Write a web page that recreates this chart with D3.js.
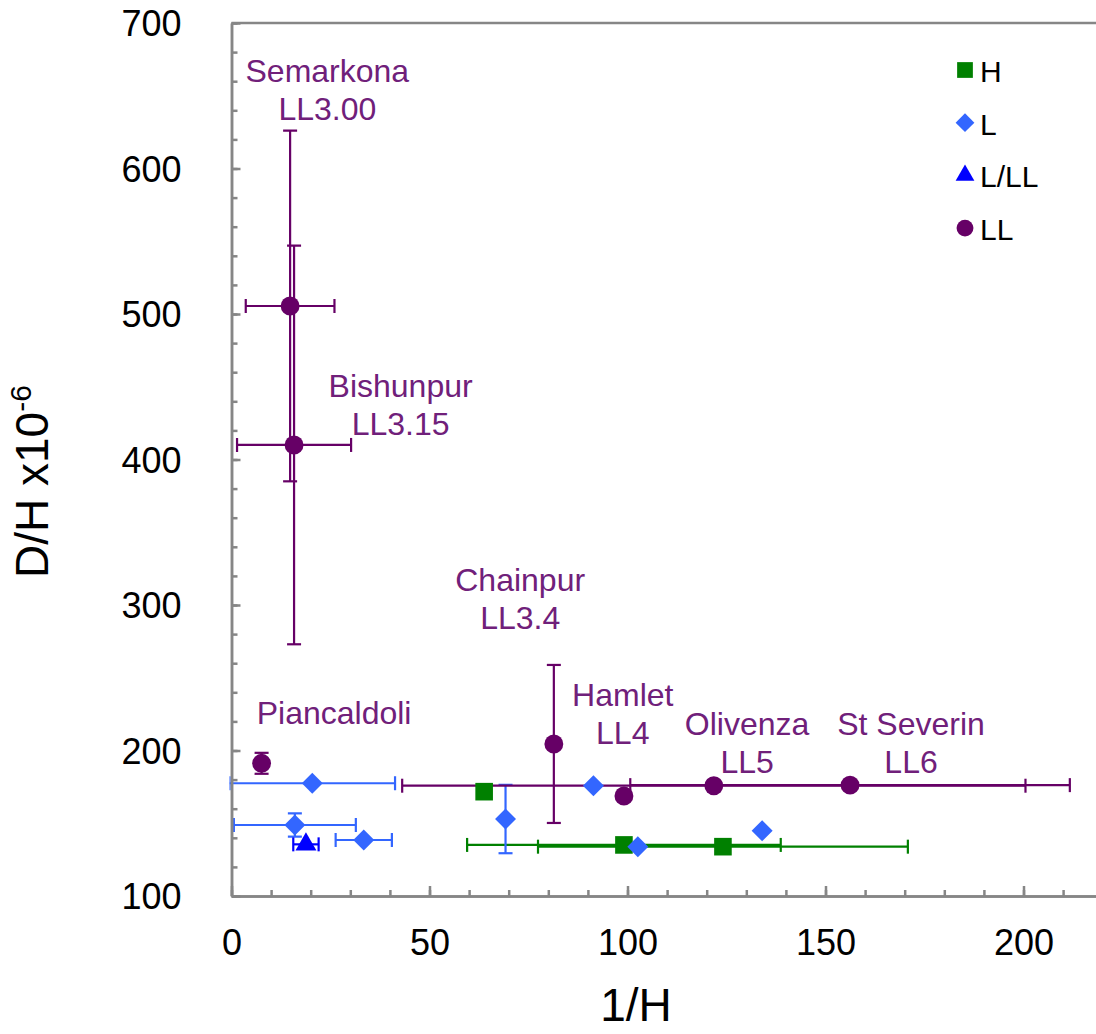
<!DOCTYPE html>
<html>
<head>
<meta charset="utf-8">
<script src="https://cdn.jsdelivr.net/npm/d3@7"></script>
<style>
  body { margin: 0; background: #fff; }
  svg { font-family: "Liberation Sans", Arial, sans-serif; }
</style>
</head>
<body>
<div id="container"></div>
<script>
// series names (legend order)
const seriesNames = ['H', 'L', 'L/LL', 'LL'];

// H chondrites
const hX = [63.8, 99.1, 124.1];
const hY = [171.7, 135.1, 133.9];
const hXErr = [0, 39.6, 46.7];
const hYErr = [0, 0, 0];

// L chondrites
const lX = [20.4, 16.0, 33.4, 69.2, 91.4, 102.6, 134.0];
const lY = [177.5, 148.8, 138.5, 152.9, 175.7, 133.9, 144.9];
const lXErr = [20.9, 15.4, 7.1, 0, 0, 0, 0];
const lYErr = [0, 8, 0, 23.5, 0, 0, 0];

// L/LL
const lllX = [18.8];
const lllY = [135.5];
const lllXErr = [3.2];
const lllYErr = [0];

// LL chondrites
const llNames = ['Semarkona', 'Bishunpur', 'Piancaldoli', 'Chainpur', 'Hamlet', 'Olivenza', 'St Severin'];
const llTypes = ['LL3.00', 'LL3.15', '', 'LL3.4', 'LL4', 'LL5', 'LL6'];
const llX = [14.8, 15.8, 7.6, 81.4, 99.1, 121.8, 156.2];
const llY = [505.5, 410, 191.2, 204.5, 168.7, 175.8, 176.2];
const llXErr = [11.2, 14.4, 0, 0, 0, 78.7, 55.5];
const llYErr = [120.5, 137, 7.2, 54.3, 0, 0, 0];
// label anchors (data units)
const labelX = [24.2, 42.7, 25.9, 72.9, 98.8, 130.2, 171.6];
const labelY = [659.2, 443, 218.2, 309.6, 230.6, 210.6, 210.6];

const xTicks = [0, 50, 100, 150, 200];
const yTicks = [100, 200, 300, 400, 500, 600, 700];

const width = 1096, height = 1034;

const colors = { 'H': '#008000', 'L': '#3366ff', 'L/LL': '#0000ff', 'LL': '#660066' };
const labelColor = '#70207a';
const axisColor = '#868686';

const svg = d3.select('#container').append('svg')
  .attr('width', width)
  .attr('height', height);

const x = d3.scaleLinear().domain([0, 250]).range([231.5, 1221.5]);
const y = d3.scaleLinear().domain([100, 700]).range([896, 23]);

// build point lists
function pts(name, xs, ys, xe, ye) {
  return xs.map((v, i) => ({ s: name, x: v, y: ys[i], xe: xe[i], ye: ye[i] }));
}
const data = {
  'H': pts('H', hX, hY, hXErr, hYErr),
  'L': pts('L', lX, lY, lXErr, lYErr),
  'L/LL': pts('L/LL', lllX, lllY, lllXErr, lllYErr),
  'LL': pts('LL', llX, llY, llXErr, llYErr)
};

svg.append('clipPath').attr('id', 'clip')
  .append('rect')
  .attr('x', x(0) - 2).attr('y', y(700))
  .attr('width', x(250) - x(0) + 2).attr('height', y(100) - y(700));

const plot = svg.append('g').attr('clip-path', 'url(#clip)');

// error bars
const cap = 7;
seriesNames.forEach(name => {
  const g = plot.append('g')
    .attr('stroke', colors[name])
    .attr('stroke-width', 2.2)
    .attr('fill', 'none');
  data[name].forEach(d => {
    if (d.xe > 0) {
      g.append('line').attr('x1', x(d.x - d.xe)).attr('x2', x(d.x + d.xe))
        .attr('y1', y(d.y)).attr('y2', y(d.y));
      [d.x - d.xe, d.x + d.xe].forEach(v => {
        g.append('line').attr('x1', x(v)).attr('x2', x(v))
          .attr('y1', y(d.y) - cap).attr('y2', y(d.y) + cap);
      });
    }
    if (d.ye > 0) {
      g.append('line').attr('x1', x(d.x)).attr('x2', x(d.x))
        .attr('y1', y(d.y - d.ye)).attr('y2', y(d.y + d.ye));
      [d.y - d.ye, d.y + d.ye].forEach(v => {
        g.append('line').attr('x1', x(d.x) - cap).attr('x2', x(d.x) + cap)
          .attr('y1', y(v)).attr('y2', y(v));
      });
    }
  });
});

// marker shapes
function symbolFor(name, scale) {
  if (name === 'H') return { path: d3.symbol(d3.symbolSquare, 310 * scale)(), rot: 0 };
  if (name === 'L') return { path: d3.symbol(d3.symbolSquare, 220 * scale)(), rot: 45 };
  if (name === 'L/LL') return { path: d3.symbol(d3.symbolTriangle, 190 * scale)(), rot: 0 };
  return { path: d3.symbol(d3.symbolCircle, 280 * scale)(), rot: 0 };
}

seriesNames.forEach(name => {
  const sym = symbolFor(name, 1);
  plot.selectAll('.m' + name.replace('/', ''))
    .data(data[name])
    .enter()
    .append('path')
    .attr('d', sym.path)
    .attr('transform', d => `translate(${x(d.x)},${y(d.y)}) rotate(${sym.rot})`)
    .attr('fill', colors[name]);
});

// LL labels
llNames.forEach((n, i) => {
  const t = svg.append('text')
    .attr('x', x(labelX[i]))
    .attr('y', y(labelY[i]))
    .attr('text-anchor', 'middle')
    .attr('fill', labelColor)
    .style('font-size', '32px');
  t.append('tspan').attr('x', x(labelX[i])).text(n);
  if (llTypes[i]) {
    t.append('tspan').attr('x', x(labelX[i])).attr('dy', 38).text(llTypes[i]);
  }
});

// axes
const xMinor = svg.append('g')
  .attr('transform', `translate(0,${y(100)})`)
  .call(d3.axisBottom(x).tickValues(d3.range(0, 251, 10)).tickSize(-6).tickSizeOuter(0).tickFormat(''));
const xAxis = svg.append('g')
  .attr('transform', `translate(0,${y(100)})`)
  .call(d3.axisBottom(x).tickValues(xTicks).tickSize(-10).tickSizeOuter(0).tickPadding(33));
const yMinor = svg.append('g')
  .attr('transform', `translate(${x(0)},0)`)
  .call(d3.axisLeft(y).tickValues(d3.range(100, 701, 20)).tickSize(-6).tickSizeOuter(0).tickFormat(''));
const yAxis = svg.append('g')
  .attr('transform', `translate(${x(0)},0)`)
  .call(d3.axisLeft(y).tickValues(yTicks).tickSize(-9).tickSizeOuter(0).tickPadding(50));

[xMinor, xAxis, yMinor, yAxis].forEach(g => {
  g.selectAll('path, line').attr('stroke', axisColor).attr('stroke-width', 2.5);
  g.selectAll('text').attr('fill', '#000').style('font-size', '36px')
    .style('font-family', '"Liberation Sans", Arial, sans-serif');
});
yAxis.selectAll('text').attr('dy', '0.36em');

// top and right border
svg.append('line')
  .attr('x1', x(0)).attr('x2', x(250))
  .attr('y1', y(700)).attr('y2', y(700))
  .attr('stroke', axisColor).attr('stroke-width', 2.5);
svg.append('line')
  .attr('x1', x(250)).attr('x2', x(250))
  .attr('y1', y(700)).attr('y2', y(100))
  .attr('stroke', axisColor).attr('stroke-width', 2.5);

// axis titles
svg.append('text')
  .attr('x', 636).attr('y', 1021)
  .attr('text-anchor', 'middle')
  .style('font-size', '46px')
  .text('1/H');

const yt = svg.append('text')
  .attr('transform', 'translate(48,578) rotate(-90)')
  .style('font-size', '46px');
yt.append('tspan').text('D/H x10');
yt.append('tspan').attr('dy', -17).style('font-size', '30px').text('-6');

// legend
const legend = svg.append('g');
seriesNames.forEach((name, i) => {
  const cy = 70 + i * 52.7;
  const sym = symbolFor(name, 0.8);
  legend.append('path')
    .attr('d', sym.path)
    .attr('transform', `translate(965,${cy}) rotate(${sym.rot})`)
    .attr('fill', colors[name]);
  legend.append('text')
    .attr('x', 980).attr('y', cy + 12)
    .style('font-size', '30px')
    .text(name);
});
</script>
</body>
</html>
